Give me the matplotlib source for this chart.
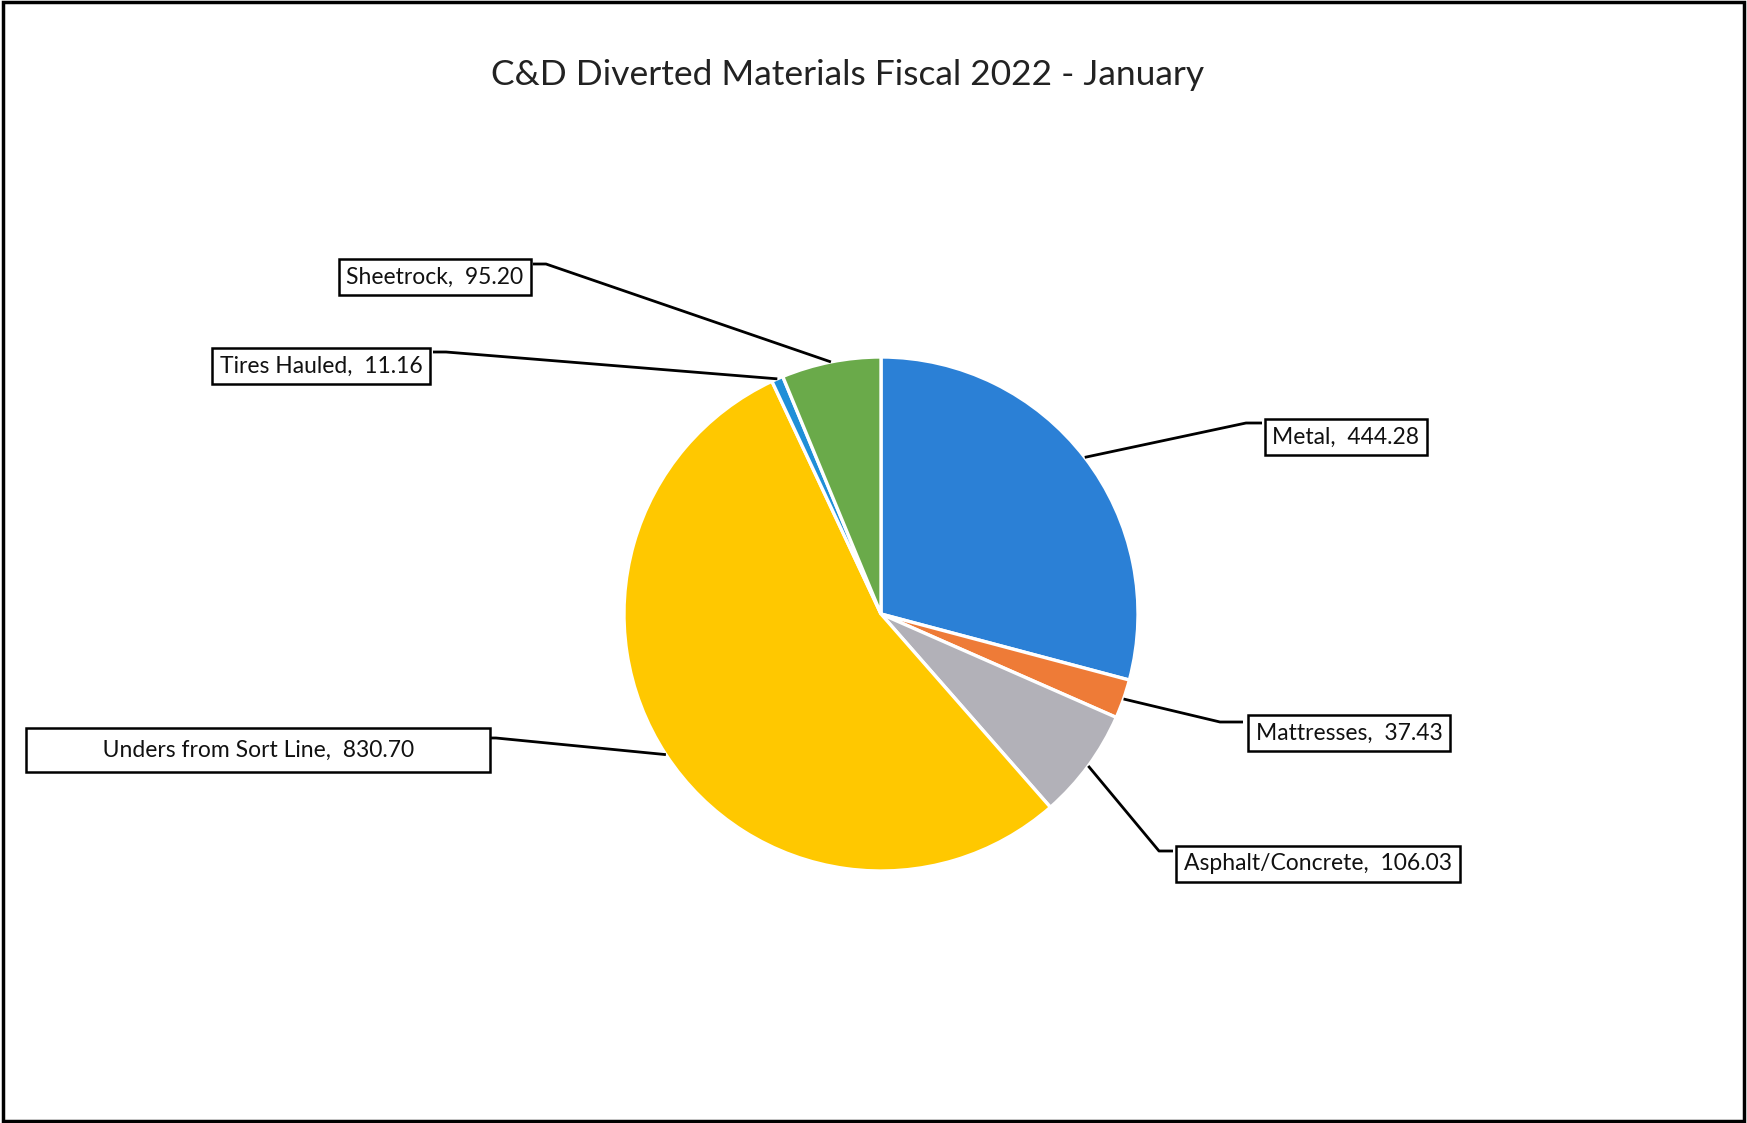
import numpy as np
import matplotlib.pyplot as plt
from matplotlib.patches import Rectangle

# data (tons)
materials = ["Metal", "Mattresses", "Asphalt/Concrete", "Unders from Sort Line",
             "Tires Hauled", "Sheetrock"]
tons = [444.28, 37.43, 106.03, 830.70, 11.16, 95.20]
colors = ["#2b80d6", "#ee7b37", "#b2b1b8", "#ffc800", "#1f8fd8", "#6aaa4a"]

W, H = 1747, 1123
plt.rcParams['font.family'] = ['Lato', 'DejaVu Sans']

fig = plt.figure(figsize=(W / 100, H / 100), dpi=100)
ax = fig.add_axes([0, 0, 1, 1])

# pie geometry in pixel units (y measured from bottom)
cx, cy, R = 881, H - 614, 257
wedges, _ = ax.pie(tons, colors=colors, startangle=90, counterclock=False,
                   center=(cx, cy), radius=R, frame=True,
                   wedgeprops=dict(edgecolor="white", linewidth=2.4))
ax.set_xlim(0, W)
ax.set_ylim(0, H)
ax.set_aspect("equal")
ax.axis("off")

# label box centre, elbow point, attach point (pixels from top-left)
label_pos = {
    "Metal": ((1346, 437), (1246, 423), (1262, 423)),
    "Mattresses": ((1349, 733), (1220, 722), (1243, 722)),
    "Asphalt/Concrete": ((1318, 864), (1159, 851), (1173, 851)),
    "Unders from Sort Line": ((258, 750), (496, 738), (485, 738)),
    "Tires Hauled": ((321, 366), (446, 352), (433, 352)),
    "Sheetrock": ((435, 277), (546, 264), (533, 264)),
}

for w, name, val in zip(wedges, materials, tons):
    mid = np.deg2rad((w.theta1 + w.theta2) / 2)
    px, py = cx + R * np.cos(mid), cy + R * np.sin(mid)
    (bx, by), (ex, ey), (ax_, ay_) = label_pos[name]
    ax.plot([px, ex, ax_], [py, H - ey, H - ay_], color="black", lw=2.0,
            solid_capstyle="butt", zorder=1)
    txt = f"{name},  {val:.2f}"
    pad = 0.33
    if name == "Unders from Sort Line":
        txt = " " * 11 + txt + " " * 11
        pad = 0.5
    ax.text(bx, H - by, txt, ha="center", va="center", fontsize=16.5,
            color="#111111", zorder=3,
            bbox=dict(boxstyle=f"square,pad={pad}", fc="white", ec="black", lw=1.8))

ax.text(848, H - 75, "C&D Diverted Materials Fiscal 2022 - January",
        ha="center", va="center", fontsize=25.5, color="#222222")

# scanned page frame
fig.patches.append(Rectangle((0.002, 0.002), 0.996, 0.996, transform=fig.transFigure,
                             fill=False, ec="black", lw=2.5))

fig.savefig("out.png", dpi=100)
